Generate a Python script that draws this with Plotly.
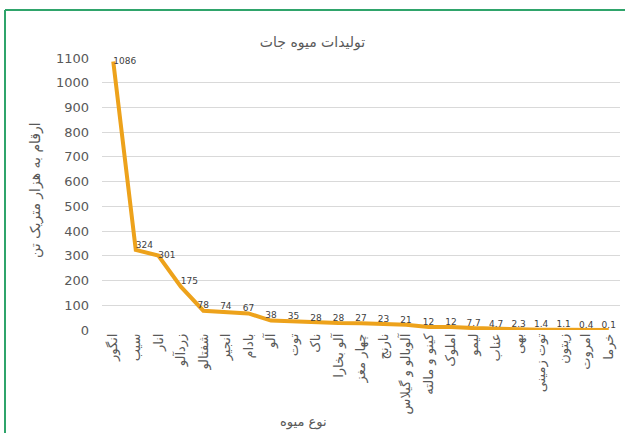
import plotly.graph_objects as go

categories = ["انگور", "سیب", "انار", "زردآلو", "شفتالو", "انجیر", "بادام", "آلو", "توت", "ناک",
              "آلو بخارا", "چهار مغز", "نارنج", "آلوبالو و گیلاس", "کینو و مالته", "املوک", "لیمو",
              "عناب", "بهی", "توت زمینی", "زیتون", "امروت", "خرما"]
values = [1086, 324, 301, 175, 78, 74, 67, 38, 35, 28, 28, 27, 23, 21, 12, 12, 7.7, 4.7, 2.3, 1.4, 1.1, 0.4, 0.1]
labels = ["1086", "324", "301", "175", "78", "74", "67", "38", "35", "28", "28", "27", "23", "21",
          "12", "12", "7.7", "4.7", "2.3", "1.4", "1.1", "0.4", "0.1"]
yticks = list(range(0, 1101, 100))

positions = ["middle right", "top right", "middle right", "top right"] + ["top center"] * (len(values) - 4)

W, H = 625, 433
L, R, T, B = 102, 5, 58, 103
pw, ph = W - L - R, H - T - B

def px(x):
    return (x - L) / pw

def py(y):
    return (H - B - y) / ph

fig = go.Figure()
fig.add_trace(go.Scatter(
    x=categories, y=values, mode="lines+text",
    line=dict(color="#EDA21B", width=4),
    text=labels, textposition=positions,
    textfont=dict(family="DejaVu Sans, Arial", size=9, color="#404040"),
    cliponaxis=False, hoverinfo="skip",
))

gray = "#595959"
fig.update_layout(
    width=W, height=H,
    margin=dict(l=L, r=R, t=T, b=B, autoexpand=False),
    paper_bgcolor="white", plot_bgcolor="white",
    showlegend=False,
    font=dict(family="DejaVu Sans, Arial", color=gray),
    title=dict(text="تولیدات میوه جات", x=0.5, xref="container", xanchor="center",
               y=1 - 42 / H, yanchor="middle", yref="container",
               font=dict(size=14, color=gray)),
    xaxis=dict(type="category", range=[-0.5, len(categories) - 0.5],
               tickangle=-90, tickfont=dict(size=13, color=gray),
               showgrid=False, showline=False, zeroline=False, ticks="", automargin=False),
    yaxis=dict(range=[0, 1100], tickvals=yticks, tickfont=dict(size=13, color=gray),
               showgrid=True, gridcolor="#D9D9D9", gridwidth=1, zeroline=False,
               showline=False, ticks="", ticklabelstandoff=12, automargin=False),
)

fig.add_annotation(text="ارقام به هزار متریک تن", xref="paper", yref="paper",
                   x=px(35), y=py(190), textangle=-90, showarrow=False,
                   font=dict(size=14, color=gray), xanchor="center", yanchor="middle")
fig.add_annotation(text="نوع میوه", xref="paper", yref="paper",
                   x=px(303), y=py(422), showarrow=False,
                   font=dict(size=13, color=gray), xanchor="center", yanchor="middle")

border = "#2FA46B"
fig.add_shape(type="line", xref="paper", yref="paper", x0=px(5), x1=px(625), y0=py(10), y1=py(10),
              line=dict(color=border, width=2))
fig.add_shape(type="line", xref="paper", yref="paper", x0=px(5), x1=px(5), y0=py(10), y1=py(433),
              line=dict(color=border, width=2))

fig.write_html("out.html", config={"displayModeBar": False},
               post_script="document.body.style.margin='0';document.body.style.overflow='hidden';")
